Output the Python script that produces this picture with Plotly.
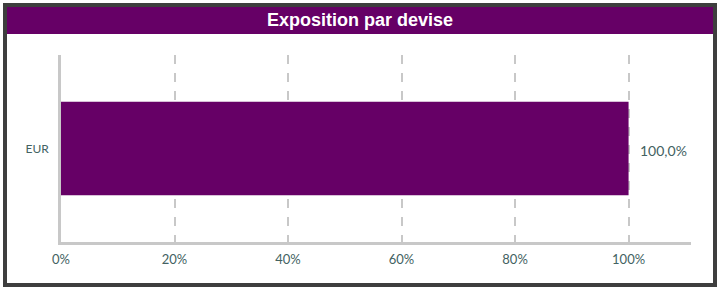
import plotly.graph_objects as go

categories = ["EUR"]
values = [1.0]
tick_vals = [0, 0.2, 0.4, 0.6, 0.8, 1.0]
tick_text = ["0%", "20%", "40%", "60%", "80%", "100%"]
title = "Exposition par devise"

W, H = 719, 289
L, R, T, B = 61, 28, 55, 47
PW, PH = W - L - R, H - T - B

def px(x):
    return (x - L) / PW

def py(y):
    return (H - B - y) / PH

labels = [f"{v*100:.1f}%".replace(".", ",") for v in values]
txt_color = "#436262"
purple = "#660066"

fig = go.Figure(go.Bar(
    y=categories, x=values, orientation="h",
    marker=dict(color=purple, line=dict(width=0)),
    width=0.5, hoverinfo="skip",
))

annotations = [dict(text=f"<b>{title}</b>", xref="paper", yref="paper",
                    x=px(360), y=py(20.5), xanchor="center", yanchor="middle",
                    showarrow=False,
                    font=dict(family="Liberation Sans", size=18, color="white"))]
for c, v, lab in zip(categories, values, labels):
    annotations.append(dict(text=lab, x=v, y=c, xref="x", yref="y",
                            xanchor="left", yanchor="middle", xshift=9, yshift=-2,
                            showarrow=False,
                            font=dict(family="Lato", size=14, color=txt_color)))

fig.update_layout(
    width=W, height=H,
    margin=dict(l=L, r=R, t=T, b=B, pad=0),
    paper_bgcolor="white", plot_bgcolor="white",
    showlegend=False,
    xaxis=dict(range=[0, 1.11],
               tickvals=tick_vals, ticktext=tick_text,
               showgrid=True, gridcolor="#c8c8c8", griddash="dash", gridwidth=1.5,
               showline=True, linecolor="#c8c8c8", linewidth=2.5,
               zeroline=False, ticks="outside", ticklen=4, tickcolor="rgba(0,0,0,0)",
               tickfont=dict(family="Lato", size=13, color=txt_color), fixedrange=True),
    yaxis=dict(range=[-0.5, 0.5], showgrid=False, showline=True, linecolor="#c8c8c8",
               linewidth=2.5, zeroline=False, ticks="outside", ticklen=7,
               tickcolor="rgba(0,0,0,0)",
               tickfont=dict(family="Lato", size=12, color=txt_color), fixedrange=True),
    shapes=[
        dict(type="rect", xref="paper", yref="paper",
             x0=px(7), x1=px(713), y0=py(7), y1=py(34),
             fillcolor=purple, line=dict(width=0), layer="above"),
        dict(type="rect", xref="paper", yref="paper",
             x0=px(5), x1=px(715), y0=py(5), y1=py(285),
             fillcolor="rgba(0,0,0,0)", line=dict(color="#3e3e3e", width=4), layer="above"),
    ],
    annotations=annotations,
)

fig.write_html("out.html", config={"displayModeBar": False},
               post_script="document.body.style.margin='0';")
